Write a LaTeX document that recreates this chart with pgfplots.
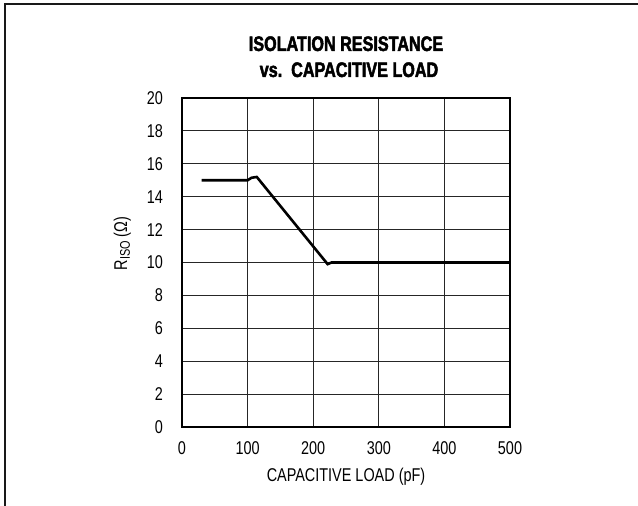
\documentclass[border=0pt]{standalone}
\usepackage{fontspec}
\setmainfont{Liberation Sans}[FakeStretch=0.78]
\newfontfamily\titlefont{Liberation Sans}[FakeStretch=0.77, BoldFeatures={FakeBold=2.2}]
\usepackage{pgfplots}
\pgfplotsset{compat=1.18}
\begin{document}
\begin{tikzpicture}[x=1pt,y=1pt]
\useasboundingbox (0,0) rectangle (638,506);
\draw[line width=2.2pt, black!90] (5,0) -- (5,502) -- (638,502);
\begin{axis}[
  at={(182pt,79pt)}, anchor=south west,
  width=328pt, height=329pt, scale only axis,
  xmin=0, xmax=500, ymin=0, ymax=20,
  xtick={0,100,...,500}, ytick={0,2,...,20},
  grid=major, major grid style={black!85, line width=0.9pt},
  axis line style={line width=2.6pt},
  major tick length=0pt,
  /pgf/number format/assume math mode=true,
  tick label style={font=\fontsize{18.5}{20}\selectfont, inner sep=0pt},
  xticklabel style={anchor=north, yshift=-14pt},
  yticklabel style={anchor=east, xshift=-19pt},
]
\addplot[black, line width=2.6pt] coordinates {
(30,15) (100,15) (106,15.15) (114,15.2) (222,9.9) (228,10) (500,10)
};
\end{axis}
\node[anchor=base, inner sep=0pt] at (346,455) {\titlefont\fontsize{21}{22}\selectfont\bfseries ISOLATION RESISTANCE};
\node[anchor=base, inner sep=0pt] at (349,429) {\titlefont\fontsize{21}{22}\selectfont\bfseries vs.\ \ CAPACITIVE LOAD};
\node[anchor=base, inner sep=0pt] at (346,24) {\fontsize{18.5}{20}\selectfont CAPACITIVE LOAD (pF)};
\node[rotate=90, anchor=base, inner sep=0pt] at (127,262.5) {\fontsize{18.5}{20}\selectfont R\raisebox{-0.3ex}{\fontsize{14}{14}\selectfont ISO} (Ω)};
\end{tikzpicture}
\end{document}
